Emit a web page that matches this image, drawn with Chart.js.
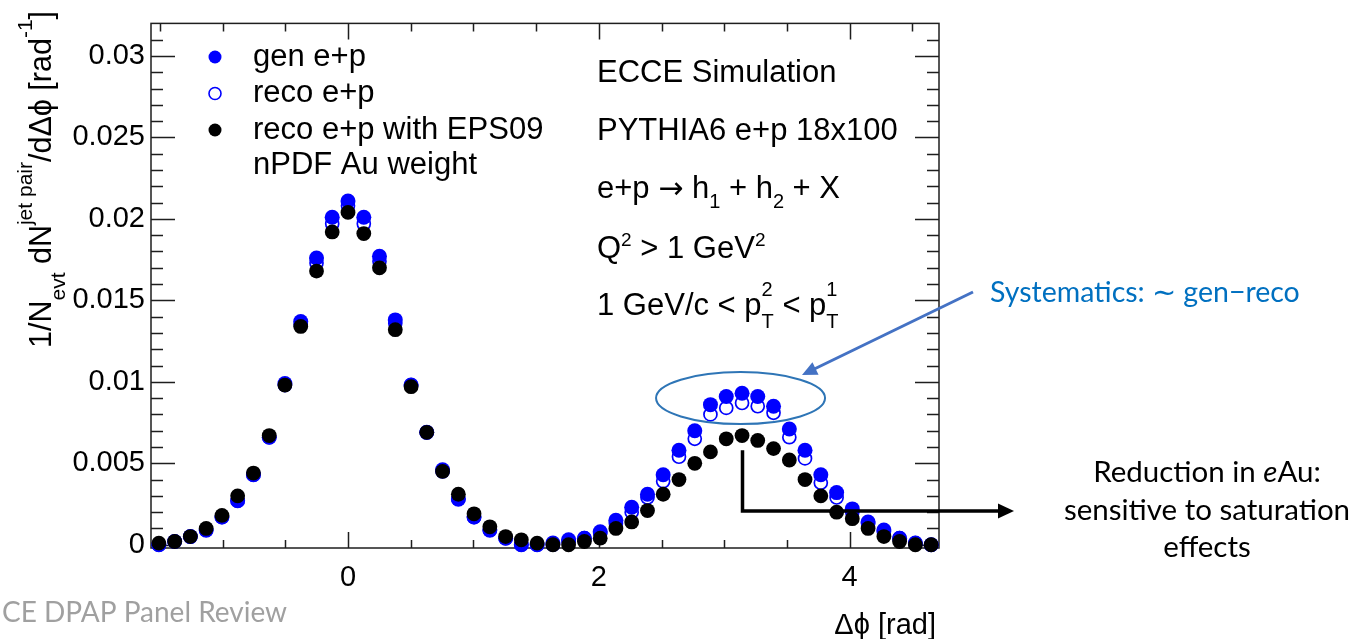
<!DOCTYPE html>
<html lang="en">
<head>
  <meta charset="UTF-8" />
  <title>Dihadron azimuthal correlation</title>
  <script src="https://cdn.jsdelivr.net/npm/chart.js"></script>
  <style>
    html, body {
      margin: 0;
      padding: 0;
      background: #ffffff;
      overflow: hidden;
    }
    #wrap {
      position: relative;
      width: 1355px;
      height: 639px;
    }
  </style>
</head>
<body>
  <div id="wrap">
    <canvas id="dphiChart" width="1355" height="639"></canvas>
  </div>

  <script>
    // bin centres in delta phi [rad], 50 bins over [-pi/2, 3pi/2]
    const dphi = [
      -1.508, -1.382, -1.257, -1.131, -1.005, -0.880, -0.754, -0.628, -0.503, -0.377,
      -0.251, -0.126, 0.000, 0.126, 0.251, 0.377, 0.503, 0.628, 0.754, 0.880,
      1.005, 1.131, 1.257, 1.382, 1.508, 1.634, 1.759, 1.885, 2.011, 2.136,
      2.262, 2.388, 2.513, 2.639, 2.765, 2.890, 3.016, 3.142, 3.267, 3.393,
      3.519, 3.644, 3.770, 3.896, 4.021, 4.147, 4.273, 4.398, 4.524, 4.650
    ];

    const genEP = [
      0.0000, 0.0002, 0.0005, 0.0009, 0.0017, 0.0027, 0.0043, 0.0066, 0.0099, 0.0137,
      0.0176, 0.0201, 0.0211, 0.0201, 0.0177, 0.0138, 0.0098, 0.0069, 0.0046, 0.0028,
      0.0017, 0.0009, 0.0004, 0.0000, 0.0000, 0.0001, 0.0003, 0.0004, 0.0008, 0.0015,
      0.0023, 0.0031, 0.0043, 0.0058, 0.0070, 0.0086, 0.0091, 0.0093, 0.0091, 0.0085,
      0.0071, 0.0058, 0.0043, 0.0032, 0.0022, 0.0014, 0.0009, 0.0004, 0.0001, 0.0000
    ];

    const recoEP = [
      0.0000, 0.0002, 0.0005, 0.0009, 0.0017, 0.0027, 0.0043, 0.0066, 0.0098, 0.0135,
      0.0173, 0.0197, 0.0208, 0.0197, 0.0174, 0.0136, 0.0098, 0.0069, 0.0045, 0.0028,
      0.0017, 0.0009, 0.0004, 0.0000, 0.0000, 0.0000, 0.0002, 0.0004, 0.0007, 0.0013,
      0.0020, 0.0029, 0.0039, 0.0054, 0.0065, 0.0080, 0.0084, 0.0087, 0.0085, 0.0081,
      0.0066, 0.0053, 0.0038, 0.0029, 0.0020, 0.0013, 0.0008, 0.0004, 0.0001, 0.0000
    ];

    const recoEPS09 = [
      0.0001, 0.0002, 0.0005, 0.0010, 0.0018, 0.0030, 0.0044, 0.0067, 0.0098, 0.0134,
      0.0168, 0.0192, 0.0204, 0.0191, 0.0170, 0.0132, 0.0097, 0.0069, 0.0045, 0.0031,
      0.0019, 0.0011, 0.0005, 0.0003, 0.0001, 0.0000, 0.0000, 0.0002, 0.0004, 0.0010,
      0.0014, 0.0021, 0.0031, 0.0040, 0.0050, 0.0057, 0.0065, 0.0067, 0.0064, 0.0059,
      0.0052, 0.0040, 0.0030, 0.0020, 0.0016, 0.0010, 0.0005, 0.0002, 0.0000, 0.0000
    ];

    const xTickLabels = [0, 2, 4];
    const yTickLabels = [0, 0.005, 0.01, 0.015, 0.02, 0.025, 0.03];
    const yTickText = ['0', '0.005', '0.01', '0.015', '0.02', '0.025', '0.03'];

    const X_MIN = -Math.PI / 2;
    const X_MAX = 3 * Math.PI / 2;
    const Y_MIN = -0.0002;
    const Y_MAX = 0.032;

    const HELV = '"Liberation Sans", Arial, Helvetica, sans-serif';
    const SYMB = '"DejaVu Sans", sans-serif';
    const SLIDE = 'Lato, "Open Sans", sans-serif';
    const BLUE = '#0000ff';

    // draws a run of text pieces; objects carry sub/superscripts or a font override
    function richText(ctx, x, y, parts, size, small, supDy, subDy) {
      let cx = x;
      parts.forEach(p => {
        if (typeof p === 'string') {
          ctx.font = size + 'px ' + HELV;
          ctx.fillText(p, cx, y);
          cx += ctx.measureText(p).width;
          return;
        }
        if (p.text) {
          ctx.font = (p.size || size) + 'px ' + p.font;
          ctx.fillText(p.text, cx, y + (p.dy || 0));
          cx += ctx.measureText(p.text).width;
          return;
        }
        ctx.font = small + 'px ' + HELV;
        let w = 0;
        if (p.sup) {
          ctx.fillText(p.sup, cx, y + (p.supDy !== undefined ? p.supDy : supDy));
          w = ctx.measureText(p.sup).width;
        }
        if (p.sub) {
          ctx.fillText(p.sub, cx, y + (p.subDy !== undefined ? p.subDy : subDy));
          w = Math.max(w, ctx.measureText(p.sub).width);
        }
        cx += w + (p.gap || 0);
      });
      return cx - x;
    }

    function arrowHead(ctx, tipX, tipY, angle, len, half) {
      ctx.save();
      ctx.translate(tipX, tipY);
      ctx.rotate(angle);
      ctx.beginPath();
      ctx.moveTo(0, 0);
      ctx.lineTo(-len, -half);
      ctx.lineTo(-len, half);
      ctx.closePath();
      ctx.fill();
      ctx.restore();
    }

    // frame with inward ticks on all four sides
    const rootFrame = {
      id: 'rootFrame',
      beforeDatasetsDraw(chart) {
        const { ctx, chartArea: a, scales } = chart;
        ctx.save();
        ctx.strokeStyle = '#1e1e1e';
        ctx.lineWidth = 1.5;
        ctx.strokeRect(a.left, a.top, a.right - a.left, a.bottom - a.top);
        ctx.beginPath();
        for (let k = -3; k <= 9; k++) {
          const px = Math.round(scales.x.getPixelForValue(k * 0.5)) + 0.5;
          const len = (k % 4 === 0) ? 16 : 8;
          ctx.moveTo(px, a.bottom);
          ctx.lineTo(px, a.bottom - len);
          ctx.moveTo(px, a.top);
          ctx.lineTo(px, a.top + len);
        }
        for (let k = 0; k <= 31; k++) {
          const py = Math.round(scales.y.getPixelForValue(k * 0.001)) + 0.5;
          const len = (k % 5 === 0) ? 24 : 12;
          ctx.moveTo(a.left, py);
          ctx.lineTo(a.left + len, py);
          ctx.moveTo(a.right, py);
          ctx.lineTo(a.right - len, py);
        }
        ctx.stroke();
        ctx.restore();
      },
      afterDraw(chart) {
        const { ctx, scales } = chart;
        ctx.save();
        ctx.fillStyle = '#000';
        ctx.textBaseline = 'alphabetic';
        ctx.textAlign = 'left';

        // legend
        const lx = 215;
        ctx.fillStyle = BLUE;
        ctx.beginPath(); ctx.arc(lx, 57, 6.5, 0, Math.PI * 2); ctx.fill();
        ctx.strokeStyle = BLUE; ctx.lineWidth = 1.6;
        ctx.beginPath(); ctx.arc(lx, 93.5, 6, 0, Math.PI * 2); ctx.stroke();
        ctx.fillStyle = '#000';
        ctx.beginPath(); ctx.arc(lx, 130, 6.5, 0, Math.PI * 2); ctx.fill();
        ctx.font = '31px ' + HELV;
        ctx.fillText('gen e+p', 253, 66);
        ctx.fillText('reco e+p', 253, 102);
        ctx.fillText('reco e+p with EPS09', 253, 139);
        ctx.fillText('nPDF Au weight', 253, 174);

        // simulation info
        const tx = 597;
        ctx.font = '31px ' + HELV;
        ctx.fillText('ECCE Simulation', tx, 82);
        ctx.fillText('PYTHIA6 e+p 18x100', tx, 140);
        richText(ctx, tx, 198, ['e+p ', { text: '\u2192', font: SYMB, size: 30 }, ' h', { sub: '1' },
          ' + h', { sub: '2' }, ' + X'], 31, 20, -12, 10);
        richText(ctx, tx, 258, ['Q', { sup: '2' }, ' > 1 GeV', { sup: '2' }], 31, 19, -12, 10);
        richText(ctx, tx, 315, ['1 GeV/c < p', { sup: '2', sub: 'T', supDy: -19, subDy: 13 }, ' < p',
          { sup: '1', sub: 'T', supDy: -19, subDy: 13 }], 31, 20, -12, 10);

        // axis titles
        ctx.fillStyle = '#000';
        ctx.font = '29px ' + HELV;
        ctx.textAlign = 'right';
        ctx.fillText('\u0394\u03d5 [rad]', 936, 634);
        ctx.textAlign = 'left';

        ctx.save();
        ctx.translate(51, 348);
        ctx.rotate(-Math.PI / 2);
        richText(ctx, 0, 0, ['1/N', { sub: 'evt' }, ' dN', { sup: 'jet pair' },
          '/d\u0394\u03d5 [rad', { sup: '-1' }, ']'], 30.5, 21, -19, 14);
        ctx.restore();

        // systematics band marker around the away-side peak
        const ex = scales.x.getPixelForValue(3.13);
        const ey = scales.y.getPixelForValue(0.0090);
        ctx.strokeStyle = '#2e75b6';
        ctx.lineWidth = 2;
        ctx.beginPath();
        ctx.ellipse(ex, ey, 84.5, 26, 0, 0, Math.PI * 2);
        ctx.stroke();

        const ax0 = 973, ay0 = 292, ax1 = 802, ay1 = 375;
        const ang = Math.atan2(ay1 - ay0, ax1 - ax0);
        ctx.strokeStyle = '#4472c4';
        ctx.fillStyle = '#4472c4';
        ctx.lineWidth = 3;
        ctx.beginPath();
        ctx.moveTo(ax0, ay0);
        ctx.lineTo(ax1 - Math.cos(ang) * 12, ay1 - Math.sin(ang) * 12);
        ctx.stroke();
        arrowHead(ctx, ax1, ay1, ang, 15, 7);

        ctx.fillStyle = '#0070c0';
        ctx.font = '28.5px ' + SLIDE;
        ctx.fillText('Systematics: \u223c gen\u2212reco', 990, 302);

        // reduction bracket from the reweighted away-side peak
        const bx = Math.round(scales.x.getPixelForValue(Math.PI)) + 0.5;
        const by0 = scales.y.getPixelForValue(0.0058);
        const by1 = 511;
        ctx.strokeStyle = '#000';
        ctx.fillStyle = '#000';
        ctx.lineWidth = 3.5;
        ctx.beginPath();
        ctx.moveTo(bx, by0);
        ctx.lineTo(bx, by1);
        ctx.lineTo(1000, by1);
        ctx.stroke();
        arrowHead(ctx, 1014, by1, 0, 16, 7.5);

        const cxText = 1207;
        const fs = '29.5px ';
        ctx.font = fs + SLIDE;
        const a1 = 'Reduction in ', a2 = 'e', a3 = 'Au:';
        const w1 = ctx.measureText(a1).width;
        const w3 = ctx.measureText(a3).width;
        ctx.font = 'italic ' + fs + SLIDE;
        const w2 = ctx.measureText(a2).width;
        const sx = cxText - (w1 + w2 + w3) / 2;
        ctx.font = fs + SLIDE;
        ctx.fillText(a1, sx, 482);
        ctx.font = 'italic ' + fs + SLIDE;
        ctx.fillText(a2, sx + w1, 482);
        ctx.font = fs + SLIDE;
        ctx.fillText(a3, sx + w1 + w2, 482);
        ctx.textAlign = 'center';
        ctx.fillText('sensitive to saturation', cxText, 520);
        ctx.fillText('effects', cxText, 557);

        // slide footer
        ctx.textAlign = 'left';
        ctx.fillStyle = '#a0a0a0';
        ctx.font = '28px ' + SLIDE;
        ctx.fillText('CE DPAP Panel Review', 2, 622);

        ctx.restore();
      }
    };

    const toPoints = ys => dphi.map((x, i) => ({ x: x, y: ys[i] }));

    new Chart(document.getElementById('dphiChart'), {
      type: 'scatter',
      data: {
        datasets: [
          {
            label: 'reco e+p with EPS09 nPDF Au weight',
            data: toPoints(recoEPS09),
            pointRadius: 7.4,
            pointBackgroundColor: '#000000',
            pointBorderColor: '#000000',
            pointBorderWidth: 0,
            clip: false,
            order: 0
          },
          {
            label: 'reco e+p',
            data: toPoints(recoEP),
            pointRadius: 6.5,
            pointBackgroundColor: 'rgba(255,255,255,0)',
            pointBorderColor: BLUE,
            pointBorderWidth: 1.7,
            clip: false,
            order: 1
          },
          {
            label: 'gen e+p',
            data: toPoints(genEP),
            pointRadius: 7.5,
            pointBackgroundColor: BLUE,
            pointBorderColor: BLUE,
            pointBorderWidth: 0,
            clip: false,
            order: 2
          }
        ]
      },
      options: {
        responsive: false,
        animation: false,
        devicePixelRatio: 1,
        layout: { padding: { top: 12, right: 416, bottom: 0, left: 0 } },
        plugins: {
          legend: { display: false },
          tooltip: { enabled: false }
        },
        scales: {
          x: {
            type: 'linear',
            min: X_MIN,
            max: X_MAX,
            grid: { display: false, drawTicks: false },
            border: { display: false },
            afterBuildTicks: scale => { scale.ticks = xTickLabels.map(v => ({ value: v })); },
            afterFit: scale => { scale.height = 91; },
            ticks: {
              autoSkip: false,
              maxRotation: 0,
              padding: 13,
              color: '#000',
              font: { family: HELV, size: 29 },
              callback: v => String(v)
            }
          },
          y: {
            type: 'linear',
            min: Y_MIN,
            max: Y_MAX,
            grid: { display: false, drawTicks: false },
            border: { display: false },
            afterBuildTicks: scale => { scale.ticks = yTickLabels.map(v => ({ value: v })); },
            afterFit: scale => { scale.width = 151; },
            ticks: {
              autoSkip: false,
              padding: 6,
              color: '#000',
              font: { family: HELV, size: 29 },
              callback: v => yTickText[yTickLabels.indexOf(v)]
            }
          }
        }
      },
      plugins: [rootFrame]
    });
  </script>
</body>
</html>
